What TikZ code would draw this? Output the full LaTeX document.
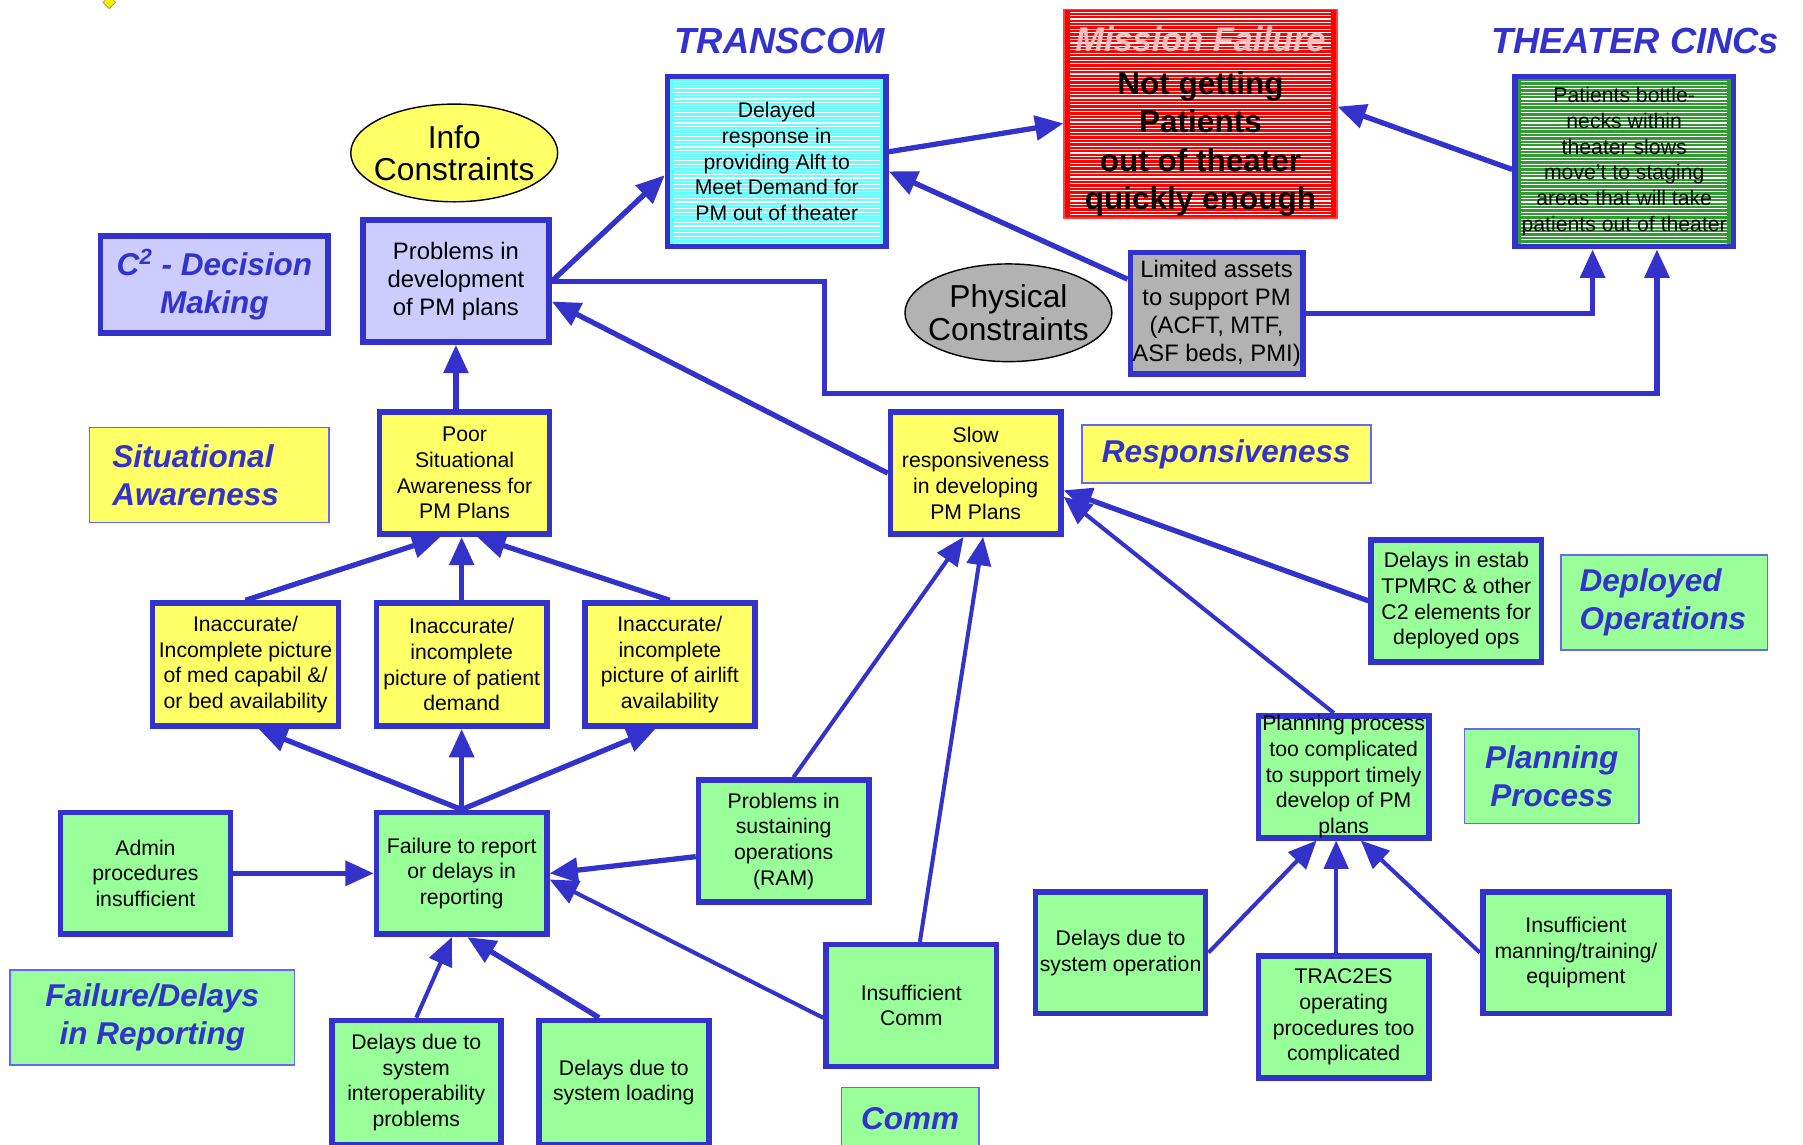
\documentclass[tikz,border=0pt]{standalone}
\usepackage{fontspec}
\setmainfont{Liberation Sans}
\usetikzlibrary{arrows.meta,shapes.geometric}
\definecolor{linkblue}{RGB}{51,51,204}
\definecolor{labblue}{RGB}{102,102,255}
\definecolor{boxyellow}{RGB}{255,255,102}
\definecolor{boxgreen}{RGB}{153,255,153}
\definecolor{boxlilac}{RGB}{204,204,255}
\definecolor{boxcyan}{RGB}{102,255,255}
\definecolor{boxgray}{RGB}{178,178,178}
\definecolor{darkgreen}{RGB}{51,153,51}
\definecolor{failpink}{RGB}{255,190,190}
\begin{document}
\begin{tikzpicture}[x=0.02cm,y=-0.02cm,
  box/.style={draw=linkblue,line width=2.8pt,align=center,inner sep=1pt,
    minimum width=2.96cm,minimum height=2.12cm,font=\fontsize{10.5}{12.7}\selectfont},
  ybox/.style={box,fill=boxyellow},
  gbox/.style={box,fill=boxgreen},
  lab/.style={draw=labblue,line width=0.8pt,inner sep=0pt,text=linkblue,
    font=\fontsize{15.6}{18.7}\selectfont\bfseries\itshape},
  headlab/.style={text=linkblue,font=\fontsize{18}{20}\selectfont\bfseries\itshape},
  cons/.style={ellipse,draw,line width=0.7pt,inner xsep=-14pt,inner ysep=-4pt,minimum width=3.6cm,
    minimum height=1.7cm,align=center,font=\fontsize{15.7}{16}\selectfont},
  stripes/.style={path picture={\foreach \k in {1,...,72}
    \draw[white,line width=0.55pt] ([xshift=3pt,yshift=\k*1.7pt]path picture bounding box.south west)
      -- ([xshift=-3pt,yshift=\k*1.7pt]path picture bounding box.south east);}},
  link/.style={draw=linkblue,line width=2.6pt,-{Triangle[length=14pt,width=12pt]}},
  slimlink/.style={link,line width=2pt}]
\useasboundingbox (0,0) rectangle (1568,995);
\draw (95,2) node[diamond,fill=yellow,draw=yellow!60!black,line width=0.4pt,minimum size=0.22cm,inner sep=0pt] (mark) {};
\draw (678,36) node[headlab] (transcom) {TRANSCOM};
\draw (1422,36) node[headlab] (cincs) {THEATER CINCs};
\draw (675.5,140.5) node[box,fill=boxcyan,stripes,minimum width=3.8cm,minimum height=2.96cm] (tc) {Delayed\\ response in\\ providing Alft to\\ Meet Demand for\\ PM out of theater};
\draw (1044,99) node[box,fill=red,draw=red!75!white,line width=0.8pt,stripes,minimum width=4.74cm,minimum height=3.62cm,font=\fontsize{15.6}{19}\selectfont\bfseries] (mf) {{\color{failpink}\fontsize{17}{19}\selectfont\itshape\rule{0pt}{20pt}Mission Failure}\\[2pt] Not getting\\ Patients\\ out of theater\\ quickly enough};
\draw (1412.5,140.5) node[box,fill=darkgreen,stripes,minimum width=3.8cm,minimum height=2.96cm] (th) {Patients bottle-\\ necks within\\ theater slows\\ move't to staging\\ areas that will take\\ patients out of theater};
\draw (395,133) node[cons,fill=boxyellow] (info) {Info\\ Constraints};
\draw (877,272) node[cons,fill=boxgray] (phys) {Physical\\ Constraints};
\draw (186.5,247.5) node[lab,draw=linkblue,line width=2.8pt,fill=boxlilac,align=center,minimum width=3.96cm,minimum height=1.68cm] (c2) {C\textsuperscript{2} - Decision\\ Making};
\draw (396.5,244.5) node[box,fill=boxlilac,minimum width=3.24cm,font=\fontsize{11.8}{14}\selectfont] (dev) {Problems in\\ development\\ of PM plans};
\draw (404,411.5) node[ybox] (sa) {Poor\\ Situational\\ Awareness for\\ PM Plans};
\draw (182,413) node[lab,fill=boxyellow,align=left,text width=3.37cm,inner xsep=0.4cm,minimum height=1.65cm] (salab) {Situational\\ Awareness};
\draw (213.5,578) node[ybox,minimum width=3.24cm,minimum height=2.14cm] (ia) {Inaccurate/\\ Incomplete picture\\ of med capabil \&/\\ or bed availability};
\draw (401.5,578) node[ybox,minimum height=2.14cm] (ib) {Inaccurate/\\ incomplete\\ picture of patient\\ demand};
\draw (582.5,578) node[ybox,minimum height=2.14cm] (ic) {Inaccurate/\\ incomplete\\ picture of airlift\\ availability};
\draw (848.5,411.5) node[ybox] (slow) {Slow\\ responsiveness\\ in developing\\ PM Plans};
\draw (1066.5,395) node[lab,fill=boxyellow,minimum width=5.03cm,minimum height=1.01cm] (resp) {Responsiveness};
\draw (1058,272.5) node[box,fill=boxgray,minimum width=2.98cm,font=\fontsize{11.8}{14}\selectfont] (lim) {Limited assets\\ to support PM\\ (ACFT, MTF,\\ ASF beds, PMI)};
\draw (1266.5,522.5) node[gbox] (est) {Delays in estab\\ TPMRC \& other\\ C2 elements for\\ deployed ops};
\draw (1447.5,524) node[lab,fill=boxgreen,align=left,text width=2.95cm,inner xsep=0.32cm,minimum height=1.65cm] (deplab) {Deployed\\ Operations};
\draw (1168.5,675.5) node[gbox,inner ysep=-3pt] (plan) {Planning process\\ too complicated\\ to support timely\\ develop of PM\\ plans};
\draw (1349.5,675) node[lab,fill=boxgreen,align=center,minimum width=3.03cm,minimum height=1.65cm] (planlab) {Planning\\ Process};
\draw (974.5,828.5) node[gbox] (sysop) {Delays due to\\ system operation};
\draw (1168.5,884.5) node[gbox] (trac) {TRAC2ES\\ operating\\ procedures too\\ complicated};
\draw (1370.5,828.5) node[gbox,minimum width=3.24cm] (man) {Insufficient\\ manning/training/\\ equipment};
\draw (681.5,731.5) node[gbox] (ram) {Problems in\\ sustaining\\ operations\\ (RAM)};
\draw (401.5,759.5) node[gbox] (fail) {Failure to report\\ or delays in\\ reporting};
\draw (126.5,759.5) node[gbox] (adm) {Admin\\ procedures\\ insufficient};
\draw (132.5,885) node[lab,fill=boxgreen,align=center,minimum width=4.95cm,minimum height=1.65cm] (faillab) {Failure/Delays\\ in Reporting};
\draw (362,941.5) node[gbox,minimum width=2.94cm,minimum height=2.16cm] (inter) {Delays due to\\ system\\ interoperability\\ problems};
\draw (542.5,941.5) node[gbox,minimum height=2.16cm] (load) {Delays due to\\ system loading};
\draw (792.5,874.5) node[gbox] (comm) {Insufficient\\ Comm};
\draw (791.5,972.5) node[lab,fill=boxgreen,minimum width=2.39cm,minimum height=1.07cm] (commlab) {Comm};
\coordinate (f1) at (717,342);
\draw[link] (dev.east) -- (tc.187);
\draw[link] (tc.5) -- (mf.184);
\draw[link] (th.184) -- (mf.3);
\draw[link] (lim.159) -- (tc.355);
\draw[link] (lim.east) -| ([xshift=-0.55cm]th.south);
\draw[link] (dev.east) -| (f1) -| ([xshift=0.57cm]th.south);
\draw[link] (slow.west) -- (dev.348);
\draw[link] (dev.south |- sa.north) -- (dev.south);
\draw[link] (ia.north) -- ([xshift=-0.42cm]sa.south);
\draw[link] (ib.north) -- (ib.north |- sa.south);
\draw[link] (ic.north) -- ([xshift=0.22cm]sa.south);
\draw[link] (fail.north) -- ([xshift=0.23cm]ia.south);
\draw[link] (fail.north) -- (fail.north |- ib.south);
\draw[link] (fail.north) -- ([xshift=-0.25cm]ic.south);
\draw[link] (adm.east) -- (fail.west);
\draw[link] (ram.190) -- (fail.east);
\draw[slimlink] (comm.188) -- (fail.356);
\draw[slimlink] (inter.north) -- ([xshift=-0.17cm]fail.south);
\draw[link] ([xshift=-0.43cm]load.north) -- ([xshift=0.1cm]fail.south);
\draw[slimlink] ([xshift=0.17cm]ram.north) -- ([xshift=-0.21cm]slow.south);
\draw[slimlink] ([xshift=0.15cm]comm.north) -- ([xshift=0.13cm]slow.south);
\draw[link] (est.west) -- (slow.349);
\draw[slimlink] ([xshift=-0.17cm]plan.north) -- (slow.345);
\draw[slimlink] (sysop.east) -- ([xshift=-0.47cm]plan.south);
\draw[slimlink] ([xshift=-0.13cm]trac.north) -- ([xshift=-0.13cm]plan.south);
\draw[slimlink] (man.west) -- ([xshift=0.3cm]plan.south);
\end{tikzpicture}
\end{document}
